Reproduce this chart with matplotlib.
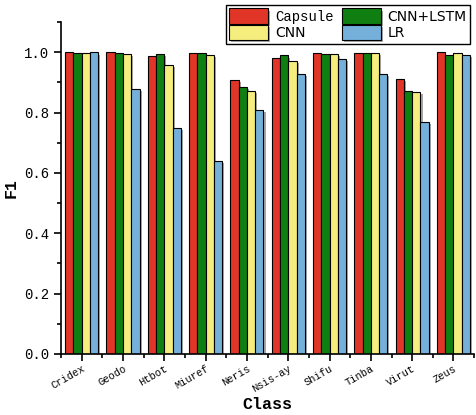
import numpy as np
import matplotlib
matplotlib.use('Agg')
import matplotlib.pyplot as plt
import matplotlib.patheffects as pe
from matplotlib.ticker import MultipleLocator

# Datos
clases = ['Cridex', 'Geodo', 'Htbot', 'Miuref', 'Neris', 'Nsis-ay', 'Shifu', 'Tinba', 'Virut', 'Zeus']
capsule = [0.999, 0.999, 0.986, 0.997, 0.907, 0.982, 0.996, 0.996, 0.910, 0.999]
cnn_lstm = [0.996, 0.998, 0.994, 0.997, 0.885, 0.989, 0.995, 0.996, 0.870, 0.992]
cnn = [0.998, 0.993, 0.957, 0.992, 0.872, 0.971, 0.995, 0.996, 0.868, 0.996]
lr = [0.999, 0.879, 0.748, 0.639, 0.809, 0.929, 0.978, 0.929, 0.770, 0.990]

series = [('Capsule', capsule, '#E03527'),
          ('CNN+LSTM', cnn_lstm, '#0F7F12'),
          ('CNN', cnn, '#F5EE7E'),
          ('LR', lr, '#74B0DA')]

fig = plt.figure(figsize=(4.77, 4.15), dpi=100)
ax = fig.add_axes([0.128, 0.147, 0.866, 0.8])

x = np.arange(len(clases))
ancho = 0.2
sombra = [pe.SimplePatchShadow(offset=(1.5, -1.5), shadow_rgbFace='gray', alpha=0.7), pe.Normal()]
barras = {}
for i, (nombre, valores, color) in enumerate(series):
    b = ax.bar(x + (i - 1.5) * ancho, valores, ancho, color=color, edgecolor='black',
               linewidth=0.8, label=nombre)
    for p in b:
        p.set_path_effects(sombra)
    barras[nombre] = b

ax.set_xlim(-0.5, 9.5)
ax.set_ylim(0, 1.1)
ax.spines['top'].set_visible(False)
ax.spines['right'].set_visible(False)
ax.spines['left'].set_linewidth(1.2)
ax.spines['bottom'].set_linewidth(1.2)

ax.yaxis.set_minor_locator(MultipleLocator(0.1))
ax.set_yticks([0, 0.2, 0.4, 0.6, 0.8, 1.0])
ax.set_yticklabels(['0.0', '0.2', '0.4', '0.6', '0.8', '1.0'], fontfamily='Liberation Mono', fontsize=10)
ax.set_xticks(x)
ax.set_xticks(np.arange(-0.5, 10, 1), minor=True)
ax.set_xticklabels(clases, rotation=30, ha='right', rotation_mode='anchor',
                   fontfamily='Liberation Mono', fontsize=7.5)
ax.tick_params(which='both', direction='out', width=1.2)
ax.tick_params(which='major', length=5)
ax.tick_params(which='minor', length=3)
ax.tick_params(axis='x', which='major', pad=2)

ax.set_xlabel('Class', fontsize=12, fontweight='bold', fontfamily='Liberation Mono', labelpad=2)
ax.set_ylabel('F1', fontsize=12, fontweight='bold', fontfamily='Liberation Mono', labelpad=4)

# Leyenda en dos columnas, encima del grafico
orden = ['Capsule', 'CNN', 'CNN+LSTM', 'LR']
leg = ax.legend([barras[n] for n in orden], orden, ncol=2, loc='upper right',
                bbox_to_anchor=(0.986, 0.988), bbox_transform=fig.transFigure,
                borderaxespad=0, fancybox=False, edgecolor='black', framealpha=1,
                handlelength=2.8, handleheight=1.3, columnspacing=0.6,
                labelspacing=0.1, borderpad=0.25, handletextpad=0.5,
                prop={'family': 'Liberation Mono', 'size': 10})
leg.get_frame().set_linewidth(1.0)
for t in leg.get_texts():
    if t.get_text() != 'Capsule':
        t.set_fontfamily('DejaVu Sans')

plt.savefig('out.png', dpi=100)
